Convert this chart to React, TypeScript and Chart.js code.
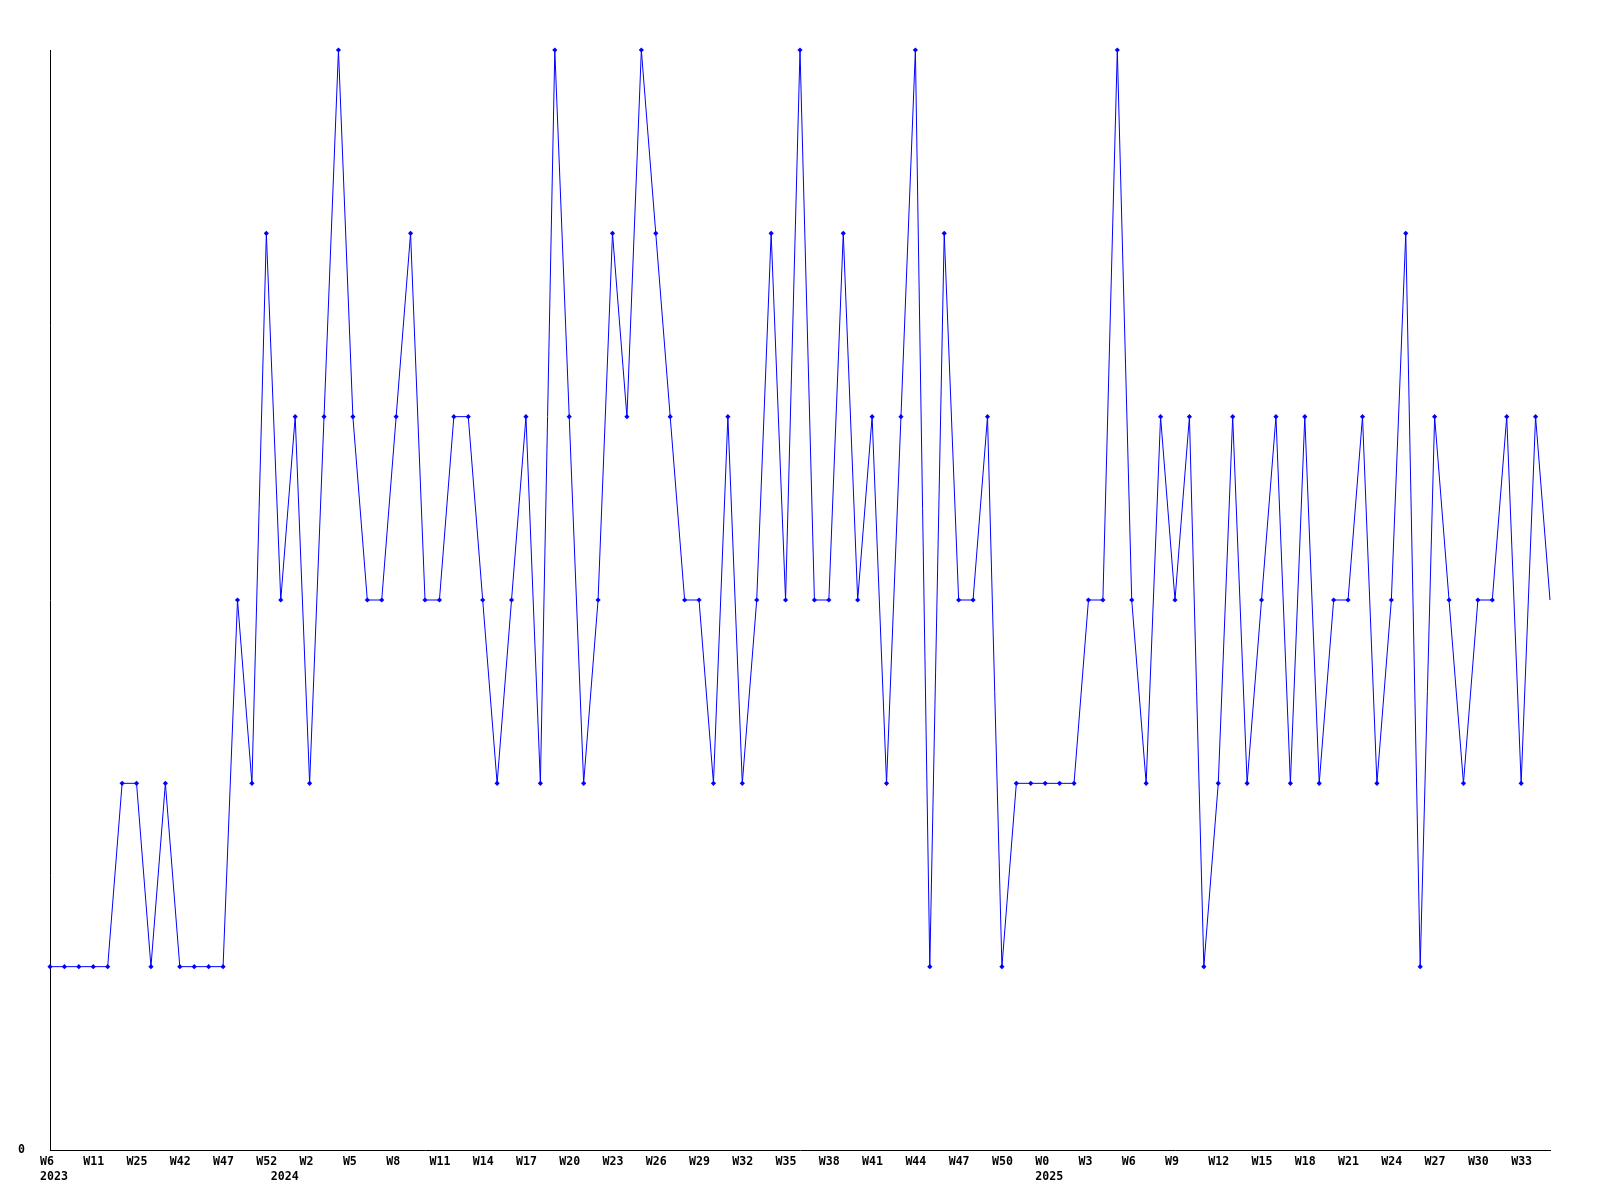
import React, { useEffect, useRef } from "react";
import { Chart, registerables } from "chart.js";

Chart.register(...registerables);

const weeks2023 = ["W6", "W8", "W10", "W11", "W15", "W20", "W25", "W30", "W38", "W42", "W44", "W45", "W47", "W49", "W50", "W52"];
const weeks2024 = ["W0", "W1", "W2", "W3", "W4", "W5", "W6", "W7", "W8", "W9", "W10", "W11", "W12", "W13", "W14", "W15", "W16", "W17", "W18", "W19", "W20", "W21", "W22", "W23", "W24", "W25", "W26", "W27", "W28", "W29", "W30", "W31", "W32", "W33", "W34", "W35", "W36", "W37", "W38", "W39", "W40", "W41", "W42", "W43", "W44", "W45", "W46", "W47", "W48", "W49", "W50", "W51", "W52"];
const weeks2025 = ["W0", "W1", "W2", "W3", "W4", "W5", "W6", "W7", "W8", "W9", "W10", "W11", "W12", "W13", "W14", "W15", "W16", "W17", "W18", "W19", "W20", "W21", "W22", "W23", "W24", "W25", "W26", "W27", "W28", "W29", "W30", "W31", "W32", "W33", "W34", "W35"];
const years = ["2023", "2024", "2025"];

const counts2023 = [1, 1, 1, 1, 1, 2, 2, 1, 2, 1, 1, 1, 1, 3, 2, 5];
const counts2024 = [
  3, 4, 2, 4, 6, 4, 3, 3, 4, 5, 3, 3, 4, 4, 3, 2, 3, 4, 2, 6, 4, 2, 3, 5, 4, 6, 5,
  4, 3, 3, 2, 4, 2, 3, 5, 3, 6, 3, 3, 5, 3, 4, 2, 4, 6, 1, 5, 3, 3, 4, 1, 2, 2,
];
const counts2025 = [
  2, 2, 2, 3, 3, 6, 3, 2, 4, 3, 4, 1, 2, 4, 2, 3, 4, 2, 4, 2, 3, 3, 4, 2, 3, 5, 1,
  4, 3, 2, 3, 3, 4, 2, 4, 3,
];

const counts = [...counts2023, ...counts2024, ...counts2025];
const weekLabels = [...weeks2023, ...weeks2024, ...weeks2025];
const yearStart: Record<number, string> = {
  0: years[0],
  [weeks2023.length]: years[1],
  [weeks2023.length + weeks2024.length]: years[2],
};

const FONT = { family: '"DejaVu Sans Mono", monospace', size: 11.6, weight: "bold" as const, lineHeight: "15px" };

export default function App() {
  const ref = useRef<HTMLCanvasElement | null>(null);
  useEffect(() => {
    if (!ref.current) return;
    const chart = new Chart(ref.current, {
      type: "line",
      data: {
        labels: weekLabels,
        datasets: [
          {
            data: counts,
            borderColor: "#0000FF",
            backgroundColor: "#0000FF",
            borderWidth: 1,
            tension: 0,
            pointStyle: "rectRot",
            pointRadius: (c: any) => (c.dataIndex === counts.length - 1 ? 0 : 2.6),
            pointBorderWidth: 0,
            pointBackgroundColor: "#0000FF",
            clip: false as any,
          },
        ],
      },
      options: {
        responsive: false,
        animation: false,
        layout: { padding: { left: 0, top: 50, right: 50, bottom: 0 } },
        plugins: { legend: { display: false }, tooltip: { enabled: false } },
        scales: {
          x: {
            type: "category",
            offset: false,
            grid: { display: false, drawTicks: false },
            border: { display: true, color: "#000000", width: 1 },
            afterFit: (s: any) => {
              s.height = 50;
            },
            ticks: {
              autoSkip: false,
              maxRotation: 0,
              minRotation: 0,
              align: "start",
              labelOffset: -10,
              padding: 4,
              color: "#000000",
              font: FONT,
              callback: (_v: any, i: number) => {
                const w = i % 3 === 0 ? weekLabels[i] : "";
                const y = yearStart[i];
                return y ? [w, y] : w;
              },
            },
          },
          y: {
            min: 0,
            max: 6,
            grid: { display: false, drawTicks: false },
            border: { display: true, color: "#000000", width: 1 },
            afterFit: (s: any) => {
              s.width = 50;
            },
            ticks: {
              stepSize: 1,
              padding: 25,
              color: "#000000",
              font: FONT,
              callback: (v: any) => (v === 0 ? "0" : ""),
            },
          },
        },
      },
    });
    return () => chart.destroy();
  }, []);
  return (
    <div style={{ position: "absolute", left: 0, top: 0, width: 1600, height: 1200, background: "#fff" }}>
      <canvas ref={ref} width={1600} height={1200} style={{ display: "block" }} />
    </div>
  );
}
